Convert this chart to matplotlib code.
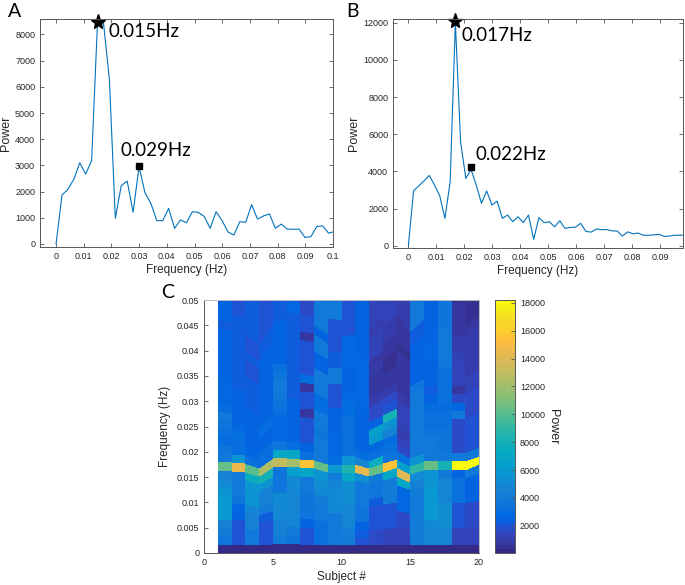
import numpy as np
import matplotlib
matplotlib.use("Agg")
import matplotlib.pyplot as plt
from matplotlib.colors import ListedColormap, Normalize

# ---------------- data ----------------
# Panel A spectrum (frequency grid step df_a)
df_a = 0.00214
power_a = [0, 1870, 2090, 2470, 3100, 2670, 3180, 8500, 8450, 6280,
           980, 2230, 2400, 1210, 2950, 1960, 1550, 890, 890, 1360,
           600, 920, 810, 1230, 1210, 1050, 600, 1230, 900, 460,
           340, 850, 830, 1500, 950, 1070, 1150, 600, 760, 570,
           560, 570, 250, 280, 670, 690, 410, 480]
peak_a = (0.0150, 8490)
second_a = (0.0298, 2980)
label_peak_a = "0.015Hz"
label_second_a = "0.029Hz"

# Panel B spectrum (frequency grid step df_b)
df_b = 0.001867
power_b = [0, 2960, 3220, 3490, 3780, 3260, 2690, 1470, 3440, 12000,
           5600, 3620, 4100, 3260, 2280, 2940, 2190, 2400, 1470, 1650,
           1290, 1560, 1240, 1650, 340, 1510, 1240, 1290, 1020, 1340,
           930, 980, 1000, 1200, 770, 730, 900, 860, 870, 800,
           790, 520, 745, 640, 680, 560, 565, 580, 610, 500,
           520, 560, 565, 570]
peak_b = (0.0168, 12110)
second_b = (0.0224, 4220)
label_peak_b = "0.017Hz"
label_second_b = "0.022Hz"

# Panel C: per-subject frequency bin width and power per column (subject 1..19)
subjects = list(range(1, 21))
bin_width = [0.00165, 0.00163, 0.00161, 0.00152, 0.00170, 0.00171, 0.00169,
             0.00167, 0.00160, 0.00159, 0.00160, 0.00152, 0.00161, 0.00169,
             0.00157, 0.00165, 0.00166, 0.00165, 0.00165, 0.00175]
heat = [
    [50, 3500, 4300, 4500, 5800, 6000, 5800, 5500, 5000, 4500, 10500, 3800, 3500, 3000, 3200, 3600, 3800, 2900, 2700, 2700, 2700, 2600, 2500, 2500, 2500, 2500, 2500, 2200, 2400, 2400, 2400, 2400, 2400],
    [50, 1800, 1800, 2000, 2600, 2800, 3600, 3800, 3800, 4000, 14500, 5500, 3000, 3200, 3000, 2800, 2400, 2500, 2500, 2500, 2300, 2300, 2300, 2300, 2200, 2300, 2300, 2200, 2100, 2000, 2000, 2000, 2000],
    [50, 3800, 3800, 4500, 4500, 4600, 5500, 5600, 5500, 7500, 10000, 3200, 2800, 2600, 2500, 2500, 2400, 2400, 2300, 2300, 2200, 2200, 1800, 2000, 2100, 2000, 2000, 2200, 2200, 2300, 2300, 2300, 2300],
    [50, 1800, 1800, 2000, 2200, 4200, 4500, 4500, 5500, 8000, 12500, 3000, 3200, 2800, 2600, 3000, 2800, 2600, 2600, 2600, 2500, 2400, 2400, 2400, 2400, 2300, 2100, 2000, 2000, 2000, 2000, 2000, 2000],
    [50, 4200, 4500, 4500, 5000, 5000, 5000, 3600, 3500, 3600, 13000, 7000, 3500, 2800, 2800, 2800, 3200, 3600, 3800, 3800, 3600, 3400, 2600, 2500, 2500, 2400, 2400, 2300, 2300, 2300, 2300, 2300, 2300],
    [50, 3600, 3800, 4800, 4800, 4800, 4800, 5000, 5000, 6500, 12000, 7000, 3000, 2400, 2400, 2600, 2600, 2400, 2300, 2300, 2200, 2200, 2200, 2200, 2200, 2100, 2100, 2100, 2700, 2600, 2100, 2100, 2100],
    [50, 2000, 2000, 2400, 3600, 3600, 3600, 3800, 3800, 7000, 15500, 3200, 2400, 2000, 1900, 2000, 900, 2000, 2000, 800, 3000, 2000, 2000, 1800, 1800, 900, 2000, 2000, 1600, 1600, 1600, 1600, 1600],
    [50, 3200, 3200, 3400, 4000, 4000, 4200, 5000, 5200, 5500, 10500, 3800, 3800, 3800, 3600, 3800, 3800, 3000, 3000, 3800, 3800, 3800, 2400, 2400, 4000, 4000, 2400, 3800, 4000, 4000, 4000, 4000, 4000],
    [50, 3800, 3800, 4000, 4000, 5000, 5000, 5000, 4800, 4200, 6000, 3000, 2800, 2800, 2800, 2400, 2400, 2400, 1800, 1800, 1800, 3800, 3800, 2200, 2200, 2000, 2000, 2000, 2000, 4000, 4000, 4000, 4000],
    [50, 4200, 4200, 4800, 4800, 4800, 5200, 5200, 5200, 7000, 8500, 5500, 3300, 3200, 3200, 3200, 3200, 3000, 2900, 2800, 2500, 2500, 2500, 2800, 2800, 2800, 2800, 2000, 2000, 2000, 2000, 2000, 2000],
    [50, 2000, 2200, 2500, 3600, 3600, 3800, 4000, 4000, 5200, 14500, 4800, 3000, 2600, 2500, 2500, 2500, 2600, 2800, 2800, 2800, 2800, 2800, 2800, 2800, 2500, 2400, 2400, 2400, 2400, 2400, 2400, 2400],
    [50, 1500, 1600, 2000, 2000, 2000, 2200, 3600, 3600, 4000, 10500, 7500, 3200, 2800, 6000, 6500, 2500, 1600, 1500, 1000, 900, 800, 800, 1000, 900, 1200, 1200, 1200, 1100, 1200, 1200, 1200, 1200],
    [50, 1400, 1400, 2000, 2000, 2000, 4200, 4200, 4200, 7000, 15500, 3500, 3200, 3000, 4500, 5500, 8000, 2000, 1500, 1000, 800, 700, 600, 600, 700, 800, 1000, 1000, 1200, 1200, 1200, 1200, 1200],
    [50, 1200, 1400, 1600, 1600, 2800, 2800, 2800, 7000, 14000, 6500, 3200, 1500, 1200, 1100, 1200, 1400, 1400, 1000, 800, 700, 700, 800, 700, 600, 800, 900, 900, 1000, 1000, 1000, 1000, 1000],
    [50, 4200, 4200, 4200, 4200, 4000, 4000, 4200, 4500, 5000, 9000, 5500, 4000, 4000, 3800, 4000, 3800, 3800, 3800, 3800, 3600, 2600, 2600, 2600, 2600, 2400, 2200, 2200, 3800, 3800, 3800, 3800, 3800],
    [50, 4800, 4800, 5000, 5800, 5800, 5800, 5800, 5600, 5500, 10500, 3800, 3800, 3800, 3600, 3200, 3200, 3000, 2400, 2200, 2400, 2500, 2600, 2800, 2800, 2600, 2600, 2500, 2400, 2400, 2400, 2400, 2400],
    [50, 4800, 4800, 5200, 5200, 5200, 4800, 4800, 4800, 3800, 8000, 4000, 3600, 3500, 3500, 3400, 3400, 3000, 3400, 3400, 3400, 3400, 3600, 3800, 3800, 3800, 3800, 3600, 3500, 3500, 3500, 3500, 3500],
    [50, 1300, 1300, 1800, 1800, 1800, 3400, 3400, 3400, 2600, 18000, 3800, 1600, 1500, 1500, 1600, 3800, 2800, 1500, 700, 1400, 1300, 1200, 1200, 1100, 1000, 900, 900, 800, 800, 600, 600, 600],
    [50, 1200, 1200, 1500, 1500, 1500, 2500, 2500, 2500, 3800, 18200, 3800, 2000, 2000, 2000, 1800, 1500, 1500, 1500, 1400, 1200, 1100, 1100, 1100, 1000, 1000, 800, 600, 500, 600, 700, 700, 700],
]

# ---------------- colormap (MATLAB parula) ----------------
parula = [
    (0.2081, 0.1663, 0.5292), (0.2116, 0.1898, 0.5777), (0.2123, 0.2138, 0.6270),
    (0.2081, 0.2386, 0.6771), (0.1959, 0.2645, 0.7279), (0.1707, 0.2919, 0.7792),
    (0.1253, 0.3242, 0.8303), (0.0591, 0.3598, 0.8683), (0.0117, 0.3875, 0.8820),
    (0.0060, 0.4086, 0.8828), (0.0165, 0.4266, 0.8786), (0.0329, 0.4430, 0.8720),
    (0.0498, 0.4586, 0.8641), (0.0629, 0.4737, 0.8554), (0.0723, 0.4887, 0.8467),
    (0.0779, 0.5040, 0.8384), (0.0793, 0.5200, 0.8312), (0.0749, 0.5375, 0.8263),
    (0.0641, 0.5570, 0.8240), (0.0488, 0.5772, 0.8228), (0.0343, 0.5966, 0.8199),
    (0.0265, 0.6137, 0.8135), (0.0239, 0.6287, 0.8038), (0.0231, 0.6418, 0.7913),
    (0.0228, 0.6535, 0.7768), (0.0267, 0.6642, 0.7607), (0.0384, 0.6743, 0.7436),
    (0.0590, 0.6838, 0.7254), (0.0843, 0.6928, 0.7062), (0.1133, 0.7015, 0.6859),
    (0.1453, 0.7098, 0.6646), (0.1801, 0.7177, 0.6424), (0.2178, 0.7250, 0.6193),
    (0.2586, 0.7317, 0.5954), (0.3022, 0.7376, 0.5712), (0.3482, 0.7424, 0.5473),
    (0.3953, 0.7459, 0.5244), (0.4420, 0.7481, 0.5033), (0.4871, 0.7491, 0.4840),
    (0.5300, 0.7491, 0.4661), (0.5709, 0.7485, 0.4494), (0.6099, 0.7473, 0.4337),
    (0.6473, 0.7456, 0.4188), (0.6834, 0.7435, 0.4044), (0.7184, 0.7411, 0.3905),
    (0.7525, 0.7384, 0.3768), (0.7858, 0.7356, 0.3633), (0.8185, 0.7327, 0.3498),
    (0.8507, 0.7299, 0.3360), (0.8824, 0.7274, 0.3217), (0.9139, 0.7258, 0.3063),
    (0.9450, 0.7261, 0.2886), (0.9739, 0.7314, 0.2666), (0.9938, 0.7455, 0.2403),
    (0.9990, 0.7653, 0.2164), (0.9955, 0.7861, 0.1967), (0.9880, 0.8066, 0.1794),
    (0.9789, 0.8271, 0.1633), (0.9697, 0.8481, 0.1475), (0.9626, 0.8705, 0.1309),
    (0.9589, 0.8949, 0.1132), (0.9598, 0.9218, 0.0948), (0.9661, 0.9514, 0.0755),
    (0.9763, 0.9831, 0.0538)]
cmap = ListedColormap(parula, name="parula")

# ---------------- styling ----------------
TXT = "#262626"
SPINE = "#555555"
LINE = "#0072BD"
ANNOFONT = ["Lato", "DejaVu Sans"]
plt.rcParams["font.family"] = ["Liberation Sans", "DejaVu Sans"]

fig = plt.figure(figsize=(6.85, 5.85), dpi=100)
W, H = 685.0, 585.0


def box(l, t, r, b):
    return [l / W, 1 - b / H, (r - l) / W, (b - t) / H]


def style(ax, tick_all=True):
    for s in ax.spines.values():
        s.set_color(SPINE)
        s.set_linewidth(0.7)
    ax.tick_params(direction="in", length=3, width=0.6, colors=SPINE,
                   labelcolor=TXT, labelsize=6.5, top=tick_all, right=tick_all)


axA = fig.add_axes(box(40, 19, 333, 247))
axB = fig.add_axes(box(393, 19, 683, 248))
axC = fig.add_axes(box(204, 300, 479, 553))
cax = fig.add_axes(box(495, 300, 515, 553))

# ---- Panel A ----
fa = np.arange(len(power_a)) * df_a
axA.plot(fa, power_a, color=LINE, lw=0.8)
axA.plot(*peak_a, marker="*", color="black", ms=11, ls="none", clip_on=False)
axA.plot(*second_a, marker="s", color="black", ms=4.5, ls="none")
axA.text(0.0188, 7910, label_peak_a, fontsize=13.5, family=ANNOFONT, color="black")
axA.text(0.0234, 3360, label_second_a, fontsize=13.5, family=ANNOFONT, color="black")
axA.set_xlim(-0.0058, 0.1)
axA.set_ylim(-115, 8590)
axA.set_xticks([i / 100 for i in range(11)])
axA.set_xticklabels(["0"] + ["%g" % (i / 100) for i in range(1, 11)])
axA.set_yticks(range(0, 8001, 1000))
axA.set_xlabel("Frequency (Hz)", fontsize=8.5, color=TXT, labelpad=2)
axA.set_ylabel("Power", fontsize=9, color=TXT, labelpad=2)
style(axA)

# ---- Panel B ----
fb = np.arange(len(power_b)) * df_b
axB.plot(fb, power_b, color=LINE, lw=0.8)
axB.plot(*peak_b, marker="*", color="black", ms=11, ls="none", clip_on=False)
axB.plot(*second_b, marker="s", color="black", ms=4.5, ls="none")
axB.text(0.0191, 11030, label_peak_b, fontsize=13.5, family=ANNOFONT, color="black")
axB.text(0.02385, 4610, label_second_b, fontsize=13.5, family=ANNOFONT, color="black")
axB.set_xlim(-0.0055, 0.0982)
axB.set_ylim(-124, 12200)
axB.set_xticks([i / 100 for i in range(10)])
axB.set_xticklabels(["0"] + ["%g" % (i / 100) for i in range(1, 10)])
axB.set_yticks(range(0, 12001, 2000))
axB.set_xlabel("Frequency (Hz)", fontsize=8.5, color=TXT, labelpad=2)
axB.set_ylabel("Power", fontsize=9, color=TXT, labelpad=2)
style(axB)

# ---- Panel C ----
C = np.array(heat, dtype=float).T            # (freq bins, subject columns)
nk = C.shape[0] + 1
X = np.tile(np.array(subjects, dtype=float), (nk, 1))
Y = np.outer(np.arange(nk), np.array(bin_width))
mesh = axC.pcolormesh(X, Y, C, cmap=cmap, norm=Normalize(50, 18200),
                      shading="flat", edgecolors="none", antialiased=False)
axC.set_axisbelow(True)
axC.set_xlim(0, 20)
axC.set_ylim(0, 0.05)
axC.set_xticks([0, 5, 10, 15, 20])
axC.set_yticks([i * 0.005 for i in range(11)])
axC.set_yticklabels(["0"] + ["%g" % (i * 0.005) for i in range(1, 11)])
axC.set_xlabel("Subject #", fontsize=8.5, color=TXT, labelpad=3)
axC.set_ylabel("Frequency (Hz)", fontsize=8.5, color=TXT, labelpad=4)
style(axC)
for s in ("top", "right"):
    axC.spines[s].set_color("#bbbbbb")

cb = fig.colorbar(mesh, cax=cax, ticks=list(range(2000, 18001, 2000)))
cb.outline.set_edgecolor(SPINE)
cb.outline.set_linewidth(0.7)
cax.tick_params(direction="in", length=3, width=0.6, colors=SPINE,
                labelcolor=TXT, labelsize=6.5)
cb.set_label("Power", fontsize=9, color=TXT, rotation=270, labelpad=10)

# ---- panel letters ----
fig.text(8 / W, 1 - 17 / H, "A", fontsize=14, family=ANNOFONT, color="black")
fig.text(346 / W, 1 - 17 / H, "B", fontsize=14, family=ANNOFONT, color="black")
fig.text(161 / W, 1 - 298 / H, "C", fontsize=14, family=ANNOFONT, color="black")

fig.savefig("out.png", dpi=100)
